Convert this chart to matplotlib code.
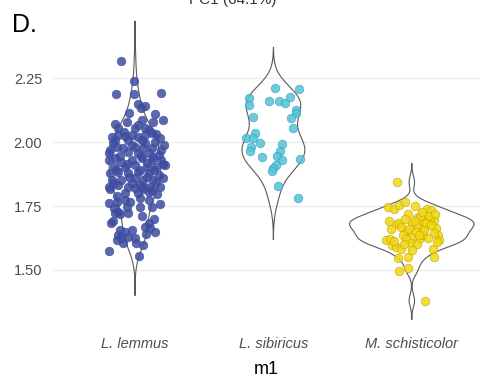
import numpy as np
import matplotlib
matplotlib.use("Agg")
import matplotlib.pyplot as plt

plt.rcParams['font.family'] = ['Liberation Sans', 'DejaVu Sans']

# species on the x axis
species = ['L. lemmus', 'L. sibiricus', 'M. schisticolor']
colors = ['#3F4DA0', '#55C1D8', '#F2D712']
edges = ['#3F4DA0', '#3AA3BC', '#C4A80A']

# m1 values and horizontal jitter (category units)
lemmus_y = [2.318, 2.239, 2.186, 2.186, 2.190, 2.147, 2.142, 2.132, 2.112, 2.109,
            2.070, 2.079, 2.086, 2.079, 2.086, 2.066, 2.053, 2.053, 2.053,
            2.021, 2.027, 2.023, 2.027, 2.021, 2.027, 2.034, 2.014, 2.008, 2.008, 2.008, 2.001,
            1.969, 1.982, 1.975, 1.982, 1.975, 1.975, 1.969, 1.956, 1.962, 1.956, 1.956, 1.949,
            1.930, 1.936, 1.923, 1.930, 1.936, 1.930, 1.930, 1.904, 1.904, 1.910, 1.904, 1.904, 1.910,
            1.878, 1.884, 1.878, 1.884, 1.878, 1.871, 1.852, 1.852, 1.858, 1.852, 1.852, 1.858,
            1.825, 1.832, 1.825, 1.832, 1.825, 1.825,
            1.816, 1.819, 1.825, 1.812, 1.800, 1.800, 1.806,
            1.760, 1.767, 1.773, 1.767, 1.780, 1.773, 1.757,
            1.741, 1.728, 1.721, 1.718, 1.721, 1.748, 1.712,
            1.682, 1.656, 1.650, 1.656, 1.682, 1.663, 1.650, 1.669, 1.637,
            1.624, 1.630, 1.624, 1.604, 1.598, 1.617, 1.574, 1.556,
            2.040, 2.045, 2.030, 1.995, 1.990, 1.995, 1.990, 1.945, 1.945, 1.940,
            1.915, 1.918, 1.915, 1.890, 1.892, 1.890, 1.865, 1.862, 1.840, 1.842,
            1.838, 1.815, 1.790, 1.795, 1.745, 1.745, 1.700, 1.690, 1.640, 1.605]
lemmus_dx = [-0.10, -0.01, -0.14, -0.01, 0.19, 0.02, 0.07, 0.04, -0.04, 0.145,
             -0.145, -0.06, 0.05, 0.13, 0.20, 0.025, 0.07, -0.12, 0.00,
             -0.17, -0.12, -0.07, -0.02, 0.025, 0.07, 0.12, 0.18, -0.145, -0.05, 0.05, 0.145,
             -0.18, -0.13, -0.085, 0.00, 0.06, 0.12, 0.19, -0.19, -0.05, 0.025, 0.10, 0.17,
             -0.19, -0.145, -0.10, -0.025, 0.05, 0.12, 0.19, -0.155, -0.07, 0.00, 0.085, 0.155, 0.22,
             -0.18, -0.12, -0.05, 0.025, 0.10, 0.17, -0.17, -0.10, 0.00, 0.06, 0.13, 0.205,
             -0.19, -0.12, -0.05, 0.035, 0.11, 0.18,
             -0.18, 0.00, 0.06, 0.12, -0.07, 0.025, 0.10,
             -0.19, -0.13, -0.07, -0.035, 0.035, 0.10, 0.18,
             -0.155, -0.12, -0.145, -0.11, -0.05, 0.035, 0.05,
             -0.175, -0.11, -0.07, -0.025, 0.10, 0.11, 0.145, 0.07, -0.12,
             -0.10, -0.05, 0.00, 0.01, 0.06, -0.13, -0.19, 0.03,
             -0.08, 0.10, 0.15, -0.16, -0.02, 0.07, 0.21, -0.11, 0.04, 0.13,
             -0.06, 0.09, 0.20, -0.14, 0.035, 0.14, -0.04, 0.085, -0.15, 0.15,
             -0.02, 0.06, -0.13, 0.16, -0.06, 0.12, 0.14, -0.16, 0.08, -0.09]

sibiricus_y = [2.210, 2.207, 2.171, 2.145, 2.160, 2.161, 2.154, 2.175, 2.125, 2.115,
               2.093, 2.096, 2.053, 2.034, 2.017, 2.014, 1.995, 1.982, 1.966, 1.991,
               1.966, 1.943, 1.945, 1.930, 1.934, 1.910, 1.897, 1.887, 1.829, 1.780]
sibiricus_dx = [0.015, 0.185, -0.18, -0.18, -0.035, 0.04, 0.085, 0.12, 0.165, 0.16,
                0.13, -0.15, 0.14, -0.135, -0.195, -0.15, -0.10, -0.16, -0.17, 0.06,
                0.045, -0.08, 0.027, 0.063, 0.19, 0.02, -0.002, -0.01, 0.034, 0.18]

schisticolor_y = [1.844, 1.747, 1.737, 1.754, 1.764, 1.751, 1.737, 1.734, 1.693, 1.680,
                  1.685, 1.718, 1.685, 1.704, 1.695, 1.702, 1.678, 1.695, 1.663, 1.669,
                  1.667, 1.667, 1.654, 1.637, 1.628, 1.620, 1.637, 1.617, 1.617, 1.620,
                  1.598, 1.589, 1.582, 1.604, 1.602, 1.624, 1.637, 1.581, 1.550, 1.548,
                  1.550, 1.578, 1.497, 1.507, 1.380,
                  1.700, 1.712, 1.690, 1.684, 1.676, 1.712, 1.690, 1.660, 1.650, 1.656,
                  1.646, 1.612, 1.600, 1.636, 1.625, 1.608, 1.660, 1.700, 1.728, 1.720]
schisticolor_dx = [-0.11, -0.17, -0.13, -0.09, -0.05, 0.024, 0.11, 0.14, -0.165, -0.11,
                   -0.09, -0.027, 0.005, 0.035, 0.065, 0.095, 0.11, 0.157, 0.174, 0.046,
                   0.09, -0.075, -0.036, -0.067, -0.007, -0.043, 0.186, 0.198, -0.19, -0.16,
                   -0.14, -0.116, -0.08, -0.007, 0.036, 0.06, 0.078, 0.15, 0.162, -0.10,
                   -0.03, 0.00, -0.09, -0.024, 0.094,
                   0.13, 0.12, 0.08, 0.10, 0.14, 0.06, 0.02, -0.02, 0.03, 0.09,
                   0.16, -0.13, -0.06, 0.05, 0.12, 0.18, -0.15, -0.05, 0.075, 0.165]

groups_y = [lemmus_y, sibiricus_y, schisticolor_y]
groups_dx = [lemmus_dx, sibiricus_dx, schisticolor_dx]


def kde(vals, cut=3, n=256):
    # gaussian kde with R's bw.nrd0, extended by cut*bw like ggplot trim=FALSE
    v = np.asarray(vals)
    sd = v.std(ddof=1)
    iqr = np.subtract(*np.percentile(v, [75, 25]))
    bw = 0.9 * min(sd, iqr / 1.34) * len(v) ** -0.2
    grid = np.linspace(v.min() - cut * bw, v.max() + cut * bw, n)
    dens = np.exp(-0.5 * ((grid[:, None] - v[None, :]) / bw) ** 2).sum(axis=1)
    dens /= len(v) * bw * np.sqrt(2 * np.pi)
    return grid, dens


fig = plt.figure(figsize=(4.81, 3.78), dpi=100)
ax = fig.add_axes([52 / 481, 48 / 378, 429 / 481, 310 / 378])

curves = [kde(g) for g in groups_y]
dmax = max(d.max() for _, d in curves)
for i, (grid, dens) in enumerate(curves):
    pos = i + 1
    w = 0.45 * dens / dmax
    ax.plot(np.concatenate([pos - w, (pos + w)[::-1], [pos - w[0]]]),
            np.concatenate([grid, grid[::-1], [grid[0]]]),
            color='#5a5a5a', lw=0.8, zorder=2)

for i in range(3):
    x = (i + 1) + np.asarray(groups_dx[i])
    ax.scatter(x, groups_y[i], s=38, color=colors[i], edgecolors=edges[i],
               linewidths=0.5, alpha=0.85, zorder=3)

ax.set_xlim(0.4, 3.5)
ax.set_ylim(1.2656, 2.4766)
ax.set_yticks([1.50, 1.75, 2.00, 2.25])
ax.set_yticklabels(['1.50', '1.75', '2.00', '2.25'])
ax.set_xticks([1, 2, 3])
ax.set_xticklabels(species, fontstyle='italic')
ax.tick_params(axis='both', length=0, labelsize=10.5, labelcolor='#4d4d4d')
ax.tick_params(axis='y', pad=7)
ax.tick_params(axis='x', pad=5)
ax.grid(axis='y', color='#ebebeb', lw=0.8)
ax.set_axisbelow(True)
for s in ax.spines.values():
    s.set_visible(False)
ax.set_xlabel('m1', fontsize=13, labelpad=7)

fig.text(12 / 481, 1 - 32 / 378, 'D.', fontsize=18, va='baseline')
fig.text(233 / 481, 1.0, 'PC1 (64.1%)', fontsize=11, ha='center', va='center',
         color='#333333')

fig.savefig('out.png', dpi=100)
